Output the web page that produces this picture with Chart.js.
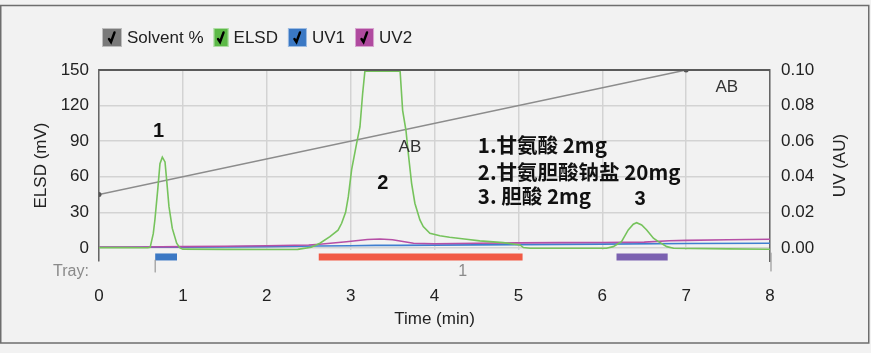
<!DOCTYPE html>
<html>
<head>
<meta charset="utf-8">
<script src="https://cdn.jsdelivr.net/npm/chart.js@4.4.1/dist/chart.umd.min.js"></script>
<style>
  html, body { margin: 0; padding: 0; background: #f2f2f2; }
  #wrap { width: 871px; height: 353px; }
</style>
</head>
<body>
<div id="wrap"><canvas id="chromChart" width="871" height="353"></canvas></div>
<script>
// ELSD trace (mV) vs time (min)
const elsdTime = [0, 0.3, 0.58, 0.61, 0.647, 0.667, 0.70, 0.727, 0.755, 0.787, 0.807, 0.834, 0.874, 0.926, 0.965,
  1.0, 1.5, 2.0, 2.37, 2.53, 2.634, 2.753, 2.85, 2.893, 2.94, 2.972, 3.012, 3.071, 3.111, 3.143, 3.17, 3.59,
  3.62, 3.66, 3.687, 3.727, 3.766, 3.826, 3.866, 3.945, 4.064, 4.18, 4.38, 4.54, 4.66, 4.82, 5.02, 5.06, 5.14,
  6.05, 6.13, 6.23, 6.31, 6.37, 6.41, 6.47, 6.53, 6.61, 6.67, 6.77, 6.85, 7.5, 8.0];
const elsdValues = [0.3, 0.3, 0.2, 0.5, 12, 24, 49, 71, 76.5, 72.5, 57, 35, 16.5, 4, 0,
  -1, -1.2, -1.3, -1.2, 0.6, 4, 9.5, 15, 20.8, 30, 43, 66, 88, 102, 130, 149, 149,
  116, 99, 80, 54.5, 37.7, 23.6, 18, 12.4, 10.3, 9, 7.3, 6, 5.3, 4.5, 2.5, 0.3, -0.3,
  -0.3, 1.1, 5.3, 15.2, 20, 21.3, 19.4, 15.2, 8.2, 5.3, 1.1, -0.3, -0.8, -1.1];

// UV traces (AU)
const uv1Time = [0, 1, 2, 2.6, 3.0, 3.3, 3.6, 4.0, 5.0, 6.0, 7.0, 8.0];
const uv1Values = [0.0004, 0.0005, 0.0008, 0.0011, 0.0013, 0.0015, 0.0015, 0.0016, 0.0019, 0.0022, 0.0025, 0.0027];
const uv2Time = [0, 0.5, 1, 1.5, 2, 2.5, 2.63, 2.95, 3.2, 3.35, 3.5, 3.75, 4.0, 4.5, 5.0, 5.5, 6.0, 6.5, 6.8, 7.0, 7.5, 8.0];
const uv2Values = [0.0006, 0.0006, 0.0008, 0.0010, 0.0013, 0.0017, 0.0021, 0.0035, 0.0048, 0.0051, 0.0046, 0.0027,
  0.0024, 0.0027, 0.0029, 0.0030, 0.0031, 0.0033, 0.0041, 0.0043, 0.0046, 0.0049];

// Solvent gradient (%B)
const solventTime = [0, 7, 8];
const solventValues = [30, 100, 100];

// collected fractions (min)
const fracStart = [0.67, 2.62, 6.17];
const fracEnd = [0.93, 5.05, 6.78];
const fracColors = ["#3b78c4", "#f15a45", "#7b61b0"];
const fracLevel = -7.6;
const trayRange = [0.67, 8];
const trayLabel = "1";

// axis ticks
const timeTicks = [0, 1, 2, 3, 4, 5, 6, 7, 8];
const elsdTicks = [0, 30, 60, 90, 120, 150];
const uvTicks = [0, 0.02, 0.04, 0.06, 0.08, 0.10];

const legendItems = [
  { label: "Solvent %", color: "#7a7a7a", w: 20 },
  { label: "ELSD", color: "#5cb947", w: 15 },
  { label: "UV1", color: "#3a78c4", w: 19 },
  { label: "UV2", color: "#b04a9f", w: 19 },
];

const peakLabels = [
  { text: "1", t: 0.71, v: 98 },
  { text: "2", t: 3.385, v: 54 },
  { text: "3", t: 6.45, v: 40.5 },
];
const noteLines = ["1.甘氨酸 2mg", "2.甘氨胆酸钠盐 20mg", "3. 胆酸 2mg"];
const noteValues = [86.8, 64, 43.8];
const noteTime = 4.517;
const abLabels = [{ t: 3.707, v: 85 }, { t: 7.485, v: 135.7 }];

const pts = (xs, ys) => xs.map((x, i) => ({ x: x, y: ys[i] }));
const FONT = '"Liberation Sans", Arial, sans-serif';

const fracDatasets = fracStart.map((s, i) => ({
  label: "frac" + (i + 1),
  data: [{ x: s, y: fracLevel }, { x: fracEnd[i], y: fracLevel }],
  borderColor: fracColors[i],
  borderWidth: 7,
  borderCapStyle: "butt",
  pointRadius: 0,
  yAxisID: "y",
  order: 5,
}));

const decor = {
  id: "decor",
  beforeDraw(chart) {
    const ctx = chart.ctx;
    ctx.save();
    ctx.fillStyle = "#f2f2f2";
    ctx.fillRect(0, 0, chart.width, chart.height);
    ctx.strokeStyle = "#6e6e6e";
    ctx.lineWidth = 1.5;
    ctx.strokeRect(0.75, 5.5, 868, 337.5);
    ctx.restore();
  },
  beforeDatasetsDraw(chart) {
    const ctx = chart.ctx;
    const a = chart.chartArea;
    const y0 = chart.scales.y.getPixelForValue(0) + 2;
    ctx.save();
    ctx.fillStyle = "#f2f2f2";
    ctx.fillRect(a.left + 1, y0, a.right - a.left - 2, a.bottom - y0 + 1);
    ctx.restore();
  },
  afterDraw(chart) {
    const ctx = chart.ctx;
    const a = chart.chartArea;
    const xs = chart.scales.x;
    const ys = chart.scales.y;
    ctx.save();

    // top frame of the plot
    ctx.strokeStyle = "#5a5a5a";
    ctx.lineWidth = 2;
    ctx.beginPath();
    ctx.moveTo(a.left, a.top);
    ctx.lineTo(a.right, a.top);
    ctx.stroke();

    // legend
    let lx = 102;
    ctx.font = "17px " + FONT;
    ctx.textBaseline = "middle";
    ctx.textAlign = "left";
    legendItems.forEach((it) => {
      ctx.fillStyle = it.color;
      ctx.fillRect(lx, 28, it.w, 19);
      ctx.strokeStyle = "rgba(255,255,255,0.5)";
      ctx.lineWidth = 1;
      ctx.strokeRect(lx + 0.5, 28.5, it.w - 1, 18);
      const cx = lx + it.w / 2;
      ctx.strokeStyle = "#000";
      ctx.lineWidth = 2.4;
      ctx.lineCap = "round";
      ctx.beginPath();
      ctx.moveTo(cx - 3, 39);
      ctx.lineTo(cx - 1, 42);
      ctx.lineTo(cx + 2.5, 32.5);
      ctx.stroke();
      ctx.fillStyle = "#222";
      ctx.fillText(it.label, lx + it.w + 5, 38);
      lx += it.w + 5 + ctx.measureText(it.label).width + 10;
    });

    // right axis title, reads bottom to top
    ctx.save();
    ctx.translate(840, (a.top + a.bottom) / 2);
    ctx.rotate(-Math.PI / 2);
    ctx.textAlign = "center";
    ctx.fillStyle = "#222";
    ctx.fillText("UV (AU)", 0, 0);
    ctx.restore();

    // tray row
    const tx0 = xs.getPixelForValue(trayRange[0]);
    const tx1 = xs.getPixelForValue(trayRange[1]);
    ctx.strokeStyle = "#999";
    ctx.lineWidth = 1.2;
    ctx.beginPath();
    ctx.moveTo(tx0, 260); ctx.lineTo(tx0, 272);
    ctx.moveTo(tx1 + 1, 253); ctx.lineTo(tx1 + 1, 271);
    ctx.stroke();
    ctx.font = "16px " + FONT;
    ctx.fillStyle = "#8a8a8a";
    ctx.textAlign = "left";
    ctx.fillText("Tray:", 53, 272);
    ctx.textAlign = "center";
    ctx.fillText(trayLabel, (tx0 + tx1) / 2, 272);

    // peak numbers
    ctx.fillStyle = "#111";
    ctx.font = "bold 20px " + FONT;
    peakLabels.forEach((p) => {
      ctx.fillText(p.text, xs.getPixelForValue(p.t), ys.getPixelForValue(p.v));
    });

    // AB markers
    ctx.font = "17px " + FONT;
    ctx.fillStyle = "#333";
    abLabels.forEach((p) => {
      ctx.fillText("AB", xs.getPixelForValue(p.t), ys.getPixelForValue(p.v));
    });

    // sample notes
    ctx.textAlign = "left";
    ctx.fillStyle = "#111";
    ctx.font = 'bold 20.5px "Noto Sans CJK SC", sans-serif';
    noteLines.forEach((s, i) => {
      ctx.fillText(s, xs.getPixelForValue(noteTime), ys.getPixelForValue(noteValues[i]));
    });
    ctx.restore();
  },
};

new Chart(document.getElementById("chromChart"), {
  type: "line",
  data: {
    datasets: [
      {
        label: "ELSD",
        data: pts(elsdTime, elsdValues),
        borderColor: "#76c35c",
        borderWidth: 1.6,
        pointRadius: 0,
        tension: 0,
        yAxisID: "y",
        order: 1,
      },
      {
        label: "UV2",
        data: pts(uv2Time, uv2Values),
        borderColor: "#b64fa6",
        borderWidth: 1.6,
        pointRadius: 0,
        yAxisID: "y2",
        order: 2,
      },
      {
        label: "UV1",
        data: pts(uv1Time, uv1Values),
        borderColor: "#3f7fd0",
        borderWidth: 1.6,
        pointRadius: 0,
        yAxisID: "y2",
        order: 3,
      },
      {
        label: "Solvent %",
        data: pts(solventTime, solventValues),
        borderColor: "#8c8c8c",
        borderWidth: 1.5,
        pointRadius: [2.5, 2.5, 1.5],
        pointBackgroundColor: "#555",
        pointBorderWidth: 0,
        yAxisID: "ySolv",
        order: 4,
      },
      ...fracDatasets,
    ],
  },
  options: {
    responsive: false,
    animation: false,
    devicePixelRatio: 1,
    layout: { padding: { top: 70, left: 0, right: 0, bottom: 0 } },
    plugins: {
      legend: { display: false },
      tooltip: { enabled: false },
    },
    scales: {
      x: {
        type: "linear",
        position: "bottom",
        min: 0,
        max: 8,
        afterBuildTicks: (s) => { s.ticks = timeTicks.map((v) => ({ value: v })); },
        afterFit: (s) => { s.height = 92; },
        ticks: { color: "#222", font: { family: FONT, size: 17 }, padding: 25 },
        grid: { color: "#d3d3d3", lineWidth: 1.5, drawTicks: false },
        border: { display: false },
        title: {
          display: true,
          text: "Time (min)",
          color: "#222",
          font: { family: FONT, size: 17 },
          padding: { top: 0, bottom: 23 },
        },
      },
      y: {
        position: "left",
        min: -11,
        max: 150,
        afterBuildTicks: (s) => { s.ticks = elsdTicks.map((v) => ({ value: v })); },
        afterFit: (s) => { s.width = 99; },
        ticks: { color: "#222", font: { family: FONT, size: 17 }, padding: 10 },
        grid: { color: "#d3d3d3", lineWidth: 1.5, drawTicks: false },
        border: { color: "#666", width: 1.5 },
        title: {
          display: true,
          text: "ELSD (mV)",
          color: "#222",
          font: { family: FONT, size: 17 },
          padding: { top: 31, bottom: 0 },
        },
      },
      y2: {
        position: "right",
        min: -0.0073,
        max: 0.1,
        afterBuildTicks: (s) => { s.ticks = uvTicks.map((v) => ({ value: v })); },
        afterFit: (s) => { s.width = 101; },
        ticks: {
          color: "#222",
          font: { family: FONT, size: 17 },
          padding: 11,
          callback: (v) => Number(v).toFixed(2),
        },
        grid: { display: false, drawTicks: false },
        border: { color: "#666", width: 1.5 },
      },
      ySolv: { display: false, min: -7.3, max: 100 },
    },
  },
  plugins: [decor],
});
</script>
</body>
</html>
